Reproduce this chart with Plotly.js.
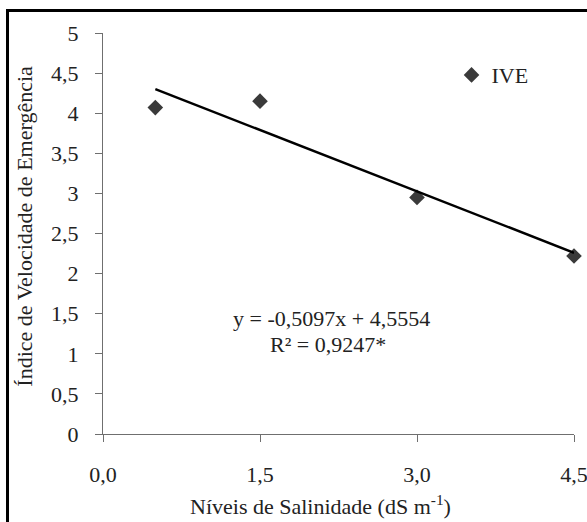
<!DOCTYPE html>
<html>
<head>
<meta charset="utf-8">
<script src="https://cdn.plot.ly/plotly-3.0.1.min.js"></script>
<style>
  html, body { margin: 0; padding: 0; background: #fff; }
  #wrap { position: relative; width: 587px; height: 522px; overflow: hidden; }
  #chart { position: absolute; left: 0; top: 0; width: 587px; height: 522px; }
  #frame { position: absolute; left: 6px; top: 9px; width: 600px; height: 540px;
           border: 3px solid #000; box-sizing: border-box; pointer-events: none; }
</style>
</head>
<body>
<div id="wrap">
  <div id="chart"></div>
  <div id="frame"></div>
</div>
<script>
// Data
const salinity = [0.5, 1.5, 3.0, 4.5];
const ive = [4.07, 4.15, 2.95, 2.22];
const trendX = [0.5, 4.5];
const trendY = [4.30, 2.26];
const xTicks = [0, 1.5, 3.0, 4.5];
const xTickLabels = ['0,0', '1,5', '3,0', '4,5'];
const yTicks = [0, 0.5, 1, 1.5, 2, 2.5, 3, 3.5, 4, 4.5, 5];
const yTickLabels = ['0', '0,5', '1', '1,5', '2', '2,5', '3', '3,5', '4', '4,5', '5'];
const seriesName = 'IVE';
const equationText = 'y = -0,5097x + 4,5554';
const r2Text = 'R² = 0,9247*';
const xTitle = 'Níveis de Salinidade (dS m<sup>-1</sup>)';
const yTitle = 'Índice de Velocidade de Emergência';

const font = {family: '"Liberation Serif", "Times New Roman", serif', color: '#222', size: 22};

const traces = [
  {
    x: salinity, y: ive, type: 'scatter', mode: 'markers', name: seriesName,
    marker: {symbol: 'diamond', size: 12, color: '#3a3a3a'},
    showlegend: true, cliponaxis: false
  },
  {
    x: trendX, y: trendY, type: 'scatter', mode: 'lines', name: 'Linear',
    line: {color: '#000', width: 2.5}, showlegend: false, cliponaxis: false
  }
];

const layout = {
  width: 587, height: 522,
  margin: {l: 103, r: 13, t: 33, b: 88},
  paper_bgcolor: '#fff', plot_bgcolor: '#fff',
  font: font,
  separators: ',.',
  showlegend: true,
  legend: {x: 0.74, y: 0.895, xanchor: 'left', yanchor: 'middle',
           font: font, bgcolor: 'rgba(0,0,0,0)', itemwidth: 30},
  xaxis: {
    range: [0, 4.5], tickvals: xTicks, ticktext: xTickLabels,
    showgrid: false, zeroline: false, showline: true, linecolor: '#6f6f6f', linewidth: 1,
    ticks: 'outside', ticklen: 7, tickcolor: '#6f6f6f', ticklabelstandoff: 14,
    ticklabeloverflow: 'allow',
    tickfont: font, fixedrange: true
  },
  yaxis: {
    range: [0, 5], tickvals: yTicks, ticktext: yTickLabels,
    showgrid: false, zeroline: false, showline: true, linecolor: '#6f6f6f', linewidth: 1,
    ticks: 'outside', ticklen: 7, tickcolor: '#6f6f6f', ticklabelstandoff: 12,
    tickfont: font, fixedrange: true
  },
  annotations: [
    {xref: 'paper', yref: 'paper', x: 0.486, y: 0.289, text: equationText,
     showarrow: false, font: font, xanchor: 'center', yanchor: 'middle'},
    {xref: 'paper', yref: 'paper', x: 0.478, y: 0.222, text: r2Text,
     showarrow: false, font: font, xanchor: 'center', yanchor: 'middle'},
    {xref: 'paper', yref: 'paper', x: 0.461, y: -0.177, text: xTitle,
     showarrow: false, font: font, xanchor: 'center', yanchor: 'middle'},
    {xref: 'paper', yref: 'paper', x: -0.166, y: 0.519, text: yTitle, textangle: -90,
     showarrow: false, font: font, xanchor: 'center', yanchor: 'middle'}
  ]
};

Plotly.newPlot('chart', traces, layout, {displayModeBar: false, staticPlot: true});
</script>
</body>
</html>
